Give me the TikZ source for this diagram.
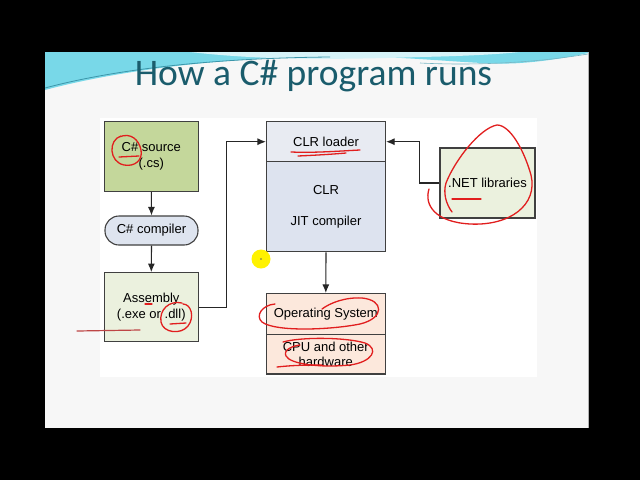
\documentclass[tikz,border=0pt]{standalone}
\usepackage{fontspec}
\setmainfont{Liberation Sans}
\newfontfamily\titlefont{Carlito}
\usetikzlibrary{arrows.meta}
\definecolor{slidebg}{RGB}{247,247,247}
\definecolor{wavecyan}{RGB}{120,216,232}
\definecolor{waveline}{RGB}{60,150,170}
\definecolor{titleteal}{RGB}{26,92,108}
\definecolor{srcfill}{RGB}{196,215,155}
\definecolor{lightgreen}{RGB}{235,241,222}
\definecolor{compfill}{RGB}{222,228,239}
\definecolor{loaderfill}{RGB}{232,235,242}
\definecolor{clrfill}{RGB}{221,227,239}
\definecolor{osfill}{RGB}{252,232,220}
\definecolor{boxline}{RGB}{64,64,64}
\definecolor{pen}{RGB}{225,30,30}
\definecolor{penmuted}{RGB}{190,70,70}
\tikzset{
  box/.style={draw=boxline, line width=1.1pt, minimum width=#1, inner sep=0pt, align=center,
    font=\fontsize{13}{15.5}\selectfont},
  conn/.style={draw=black!85, line width=1.1pt},
  arr/.style={conn, -{Latex[length=8.5pt,width=7pt]}},
  ink/.style={draw=pen, line width=1.3pt, line cap=round, line join=round},
}
\begin{document}
\begin{tikzpicture}[x=1pt,y=-1pt]
\useasboundingbox (0,0) rectangle (640,480);
\fill[black] (0,0) rectangle (640,480);
% slide
\fill[slidebg] (45,52) rectangle (588,428);
\draw[gray!60, line width=0.8pt] (588,52) -- (588,428);
% top wave
\fill[wavecyan] (45,52) -- (45,90) .. controls (120,70) and (220,58) .. (330,56)
  .. controls (420,56) and (480,66) .. (520,63) .. controls (550,61) and (575,56) .. (588,53)
  -- (588,52) -- cycle;
\fill[white!70!wavecyan] (190,52) .. controls (260,60) and (330,60) .. (420,57)
  .. controls (470,56) and (500,54) .. (520,52) -- cycle;
\draw[waveline, line width=0.8pt] (45,88) .. controls (120,68) and (220,58) .. (330,57);
\draw[waveline!70, line width=0.6pt] (420,63) .. controls (480,66) and (540,62) .. (588,54);
% title
\node[font=\titlefont\fontsize{37.5}{40}\selectfont, text=titleteal, anchor=base] (title) at (313.5,85) {How a C\# program runs};
% diagram background
\fill[white] (100,118) rectangle (537,377);
% nodes
\node[box=94pt, minimum height=69.5pt, fill=srcfill] (src) at (151.3,156.5) {C\# source\\(.cs)};
\node[box=93pt, minimum height=29pt, fill=compfill, rounded corners=14pt] (comp) at (151.5,230.5) {C\# compiler};
\node[box=94pt, minimum height=69pt, fill=lightgreen] (asm) at (151.3,307.2) {Assembly\\(.exe or .dll)};
\node[box=119pt, minimum height=40pt, fill=loaderfill] (loader) at (326,141.7) {CLR loader};
\node[box=119pt, minimum height=90pt, fill=clrfill] (clr) at (326,206.7) {CLR\\[15.5pt]JIT compiler};
\node[box=119.5pt, minimum height=41pt, fill=osfill] (os) at (325.8,314) {Operating System};
\node[box=119.5pt, minimum height=39.5pt, fill=osfill] (cpu) at (325.8,354.2) {CPU and other\\hardware};
\node[box=95pt, minimum height=70pt, fill=lightgreen] (net) at (487.5,183) {.NET libraries};
% connectors
\draw[arr] (src.south) -- (comp.north);
\draw[arr] (comp.south) -- (asm.north);
\draw[arr] (asm.east) -- ++(27.5,0) |- (loader.west);
\draw[arr] (net.west) -- ++(-20,0) |- (loader.east);
\draw[arr] (clr.south) -- (os.north);
% pen annotations
\draw[ink] (121,136) .. controls (108,140) and (109,162) .. (124,165) .. controls (135,167) and (143,160) .. (141,150) .. controls (139,140) and (131,132) .. (119,137);
\draw[ink] (119,157) -- (139,156);
\draw[ink] (145,304) -- (152,304);
\draw[ink] (182,303) .. controls (169,300) and (159,310) .. (161,322) .. controls (163,333) and (181,335) .. (188,326) .. controls (195,317) and (191,304) .. (183,304);
\draw[ink] (170,324) -- (186,323);
\draw[penmuted, line width=1.2pt, line cap=round] (77,331) -- (140,330);
\draw[ink] (291,152) .. controls (315,153) and (340,151) .. (360,150);
\draw[ink] (298,156) .. controls (320,155) and (335,154) .. (346,153);
\draw[ink] (275,304) .. controls (262,305) and (255,316) .. (262,322) .. controls (275,332) and (330,330) .. (360,324)
  .. controls (385,318) and (384,300) .. (362,298) .. controls (345,297) and (330,303) .. (322,309);
\draw[ink] (283,342) .. controls (300,337) and (345,337) .. (365,343) .. controls (380,349) and (372,362) .. (350,365)
  .. controls (320,368) and (290,364) .. (286,356) .. controls (283,350) and (292,346) .. (300,345);
\draw[ink] (277,367) .. controls (295,365) and (310,365) .. (322,365);
\draw[ink] (429,189) .. controls (424,205) and (435,222) .. (470,224) .. controls (510,226) and (538,205) .. (531,175)
  .. controls (524,150) and (510,125) .. (497,125) .. controls (480,128) and (455,160) .. (446,183) .. controls (443,193) and (446,204) .. (452,212);
\draw[ink] (452,199) -- (481,199);
% pointer
\fill[yellow] (261,259) circle (9.5pt);
\fill[black!60] (261,259) circle (0.8pt);
\end{tikzpicture}
\end{document}
